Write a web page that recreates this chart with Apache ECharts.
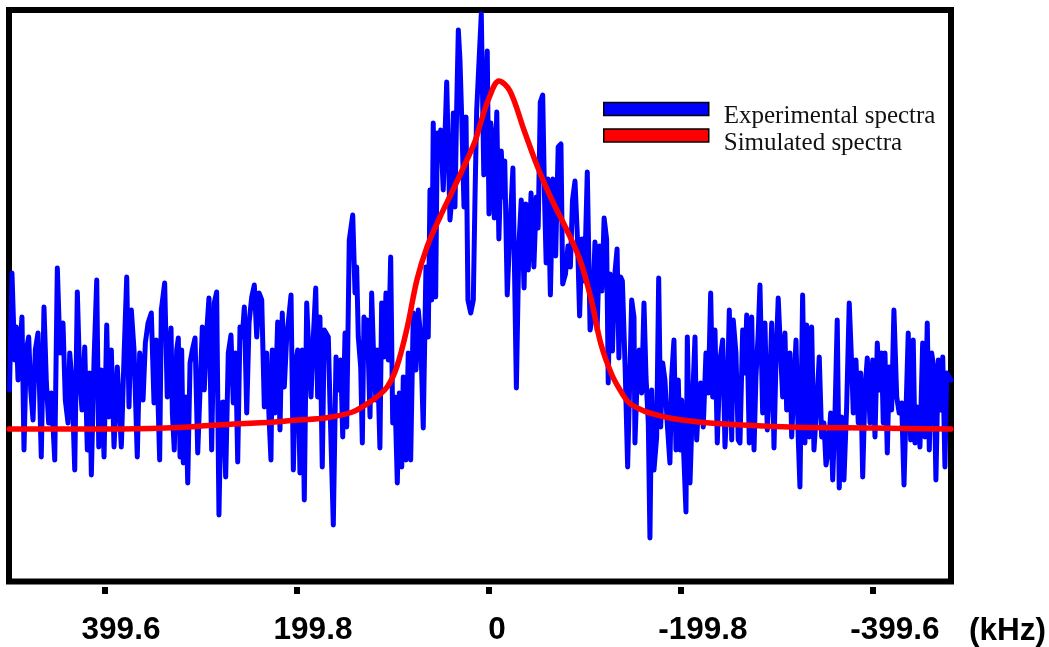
<!DOCTYPE html>
<html><head><meta charset="utf-8">
<script src="https://cdn.jsdelivr.net/npm/echarts@6/dist/echarts.min.js"></script>
<style>html,body{margin:0;padding:0;background:#fff}#c{width:1049px;height:647px}</style>
</head><body><div id="c"></div>
<script>
const tickValues = [399.6, 199.8, 0, -199.8, -399.6];
const unitLabel = '(kHz)';
const seriesNames = ['Experimental spectra', 'Simulated spectra'];

const expFreq = [
499.0, 496.4, 493.6, 491.9, 490.1, 486.0, 483.9, 481.5, 479.0, 476.9, 474.5, 472.1, 469.3, 465.9, 463.1, 460.6, 458.2, 455.4, 451.9, 449.2, 446.4, 443.3, 440.9, 438.1, 436.3, 433.9, 431.1, 428.4, 425.9, 423.5, 420.7, 418.0, 415.5, 413.8, 411.0, 408.2, 406.1, 403.4, 400.6, 397.8, 395.7, 393.0, 390.2, 386.8, 382.6, 379.8, 377.0, 374.6, 372.2, 369.4, 366.0, 363.5, 360.0, 357.6, 354.8, 351.4, 348.6, 346.2, 342.7, 341.0, 337.5, 334.8,
330.9, 329.5, 327.5, 325.0, 323.3, 321.5, 319.8, 318.1, 315.6, 313.5, 311.1, 308.7, 305.9, 303.1, 300.7, 298.3, 296.3, 293.8, 291.4, 288.6, 285.9, 283.4, 281.0, 278.9, 276.5, 274.0, 271.3, 268.5, 266.1, 263.6, 261.5, 259.1, 256.7, 254.6, 252.1, 249.7, 246.9, 244.2, 241.7, 239.3, 236.5, 233.8, 231.3, 228.9, 226.9, 225.5, 222.7, 219.9, 217.5, 215.1, 213.0, 210.5, 208.1, 206.0, 203.6, 201.1, 199.1, 196.7, 194.3, 192.2, 189.7, 188.0, 185.2, 182.8, 180.3, 178.3, 175.9, 173.5, 171.4,
167.2, 165.5, 162.0, 159.2, 156.8, 154.3, 152.2, 149.8, 148.1, 145.4, 141.8, 139.4, 137.7, 136.0, 133.5, 131.8, 130.1, 128.0, 126.6, 123.8, 122.1, 119.7, 117.6, 116.2, 113.5, 111.7, 109.3, 107.2, 104.8, 102.3, 100.2, 97.8, 95.4, 93.3, 90.8, 89.2, 86.4, 84.0, 81.5, 78.8, 76.0, 73.6, 71.1, 68.4, 65.6, 63.2, 61.4, 59.6, 58.0, 55.5, 53.8, 51.7, 50.3, 47.6, 44.0, 42.4, 40.6, 38.8, 37.1, 35.4, 33.6, 31.9, 30.2, 28.4, 26.0, 23.9, 21.9, 19.0, 16.3, 14.6, 12.8, 8.0,
5.4, 3.6, 1.8, 0, -1.9, -3.6, -5.5, -8.1, -10.3, -12.8, -14.7, -16.4, -19.0, -22.0, -24.9, -28.5, -31.1, -33.6, -36.5, -38.4, -40.9, -43.8, -46.7, -49.3, -51.2, -53.4, -55.9, -57.8, -59.5, -61.4, -63.9, -66.5, -69.4, -72.0, -74.9, -76.7, -79.6, -82.2, -84.7, -86.9, -89.5, -92.1, -94.3, -96.8, -99.4, -102.3, -105.2, -107.7, -110.3, -112.5, -115.1, -117.6, -119.8, -122.4, -124.1, -126.0, -128.5, -130.7, -133.3, -135.2, -137.0, -138.8, -141.7, -144.3,
-148.5, -150.9, -151.9, -153.7, -156.4, -158.9, -161.3, -163.4, -165.8, -167.5, -169.3, -171.7, -174.5, -176.6, -178.7, -180.8, -183.1, -185.5, -188.3, -190.1, -192.5, -194.6, -197.0, -198.8, -200.5, -205.0, -206.4, -209.2, -212.0, -214.4, -216.1, -218.5, -220.3, -223.0, -225.8, -228.2, -230.7, -232.8, -235.2, -237.6, -240.4, -243.2, -245.6, -248.0, -250.1, -252.6, -254.2, -257.0, -259.4, -261.2, -264.0, -266.4, -268.2, -270.9, -273.4, -275.8, -277.8, -280.2, -282.0, -284.8, -287.2, -289.6, -292.4, -294.2, -296.6, -298.7, -301.0, -303.5, -305.6, -308.0, -309.8, -311.9, -313.2,
-315.0, -319.5, -321.9, -323.6, -326.4, -328.8, -330.6, -333.3, -335.8, -338.2, -341.0, -343.7, -346.2, -348.6, -350.7, -353.1, -355.6, -357.7, -360.0, -362.4, -364.5, -367.0, -369.4, -372.2, -374.9, -377.4, -379.1, -381.9, -384.3, -386.8, -388.9, -391.3, -393.7, -396.5, -399.3, -401.7, -404.1, -406.2, -408.6, -410.3, -412.1, -414.5, -416.6, -419.0, -421.4, -424.3, -426.9, -429.5, -431.9, -434.0, -436.3, -438.8, -441.5, -443.3, -445.7, -448.5, -451.3, -453.7, -456.1, -458.2, -460.7, -463.1, -465.1, -467.6, -470.1, -472.2, -474.5, -476.3, -480.8
];
const expInt = [
39, 156, 69, 102, 49, 112, -21, 79, 92, 39, 9, 79, 96, -28, 122, 46, 6, 36, -31, 161, 76, 106, 29, 6, 76, 46, -41, 137, 52, 19, 82, -21, 56, -46, 69, 149, -18, 59, -28, 104, 12, 79, -18, 62, -18, 72, 152, 22, 119, 79, -28, 76, 29, 86, 106, 116, 26, 89, -31, 119, 146, 32,
101, 16, -21, 79, 91, -28, 79, -34, 32, -54, 66, 79, 91, -24, 39, 102, 39, 96, 131, -21, 126, 137, -86, 26, 27, -48, 76, 94, 26, 76, -33, 102, 92, 122, 16, 106, 132, 144, 92, 136, 129, 22, 76, 12, -31, 79, 16, 107, -1, 116, 42, 92, 114, 134, -41, 66, 79, -44, 79, -71, 126, 89, 32, 92, 141, 32, 112, -38, 99,
92, 26, -96, 72, 39, 69, -8, 96, 2, 189, 214, 136, 162, 92, 62, -14, 112, 89, 109, 12, 136, 62, 29, 79, -19, 126, 72, 136, 69, 172, 6, 32, -54, 36, -38, 52, -31, 76, -31, 116, 59, 119, 92, 1, 162, 92, 239, 129, 306, 132, 296, 269, 299, 239, 347, 282, 209, 229, 316, 222, 322, 399, 369, 312, 222, 312, 129, 116, 129, 229, 319, 415,
254, 320, 378, 215, 306, 289, 211, 317, 190, 278, 232, 268, 134, 204, 261, 41, 183, 229, 141, 225, 159, 236, 162, 232, 201, 327, 334, 232, 166, 250, 134, 250, 173, 282, 285, 145, 155, 183, 162, 229, 248, 190, 113, 190, 148, 257, 99, 113, 187, 99, 183, 138, 211, 190, 46, 155, 78, 152, 180, 71, 152, 148, 61, -38,
129, 112, -14, 36, 79, 36, 126, 52, 6, -109, 39, -41, -8, 151, 2, 66, 49, 6, -34, 52, 89, -21, 49, -21, 29, -83, 92, -54, 32, 92, -11, 32, 46, 2, 76, 36, 136, 32, 99, -14, 69, 89, -18, 32, 119, -11, 109, 76, -11, -14, 99, 56, 114, -14, 112, -21, 52, 96, 144, 16, 106, -1, 52, 106, -19, 69, 131, 76, 32, 96, 19, 59, 76,
-8, 89, -11, -58, 134, -14, 104, -8, 102, -21, 22, 72, -8, 6, -36, -21, 16, -51, 12, 109, -59, 12, -51, 22, 126, 66, 16, 69, 6, 56, -48, 39, 71, 6, 69, -8, 86, 39, 76, 6, 76, -24, 62, 19, 119, 32, 16, 26, -56, 19, 96, -11, 89, -14, 22, -18, 86, -8, 106, -21, 76, 59, -51, 69, 19, 72, -38, 56, 49
];

const simFreq = [499.5, 400, 337, 282, 223, 199, 171, 142, 121, 106, 96, 85, 75, 64.5, 51, 37.5, 23, 14, 9, 0, -10.4, -21.8, -36.4, -51, -65.5, -80, -94.7, -106, -116.5, -128, -138.3, -146, -159, -167.5, -188, -230, -313, -400, -480.8];
const simInt  = [0, 0, 1, 4, 7, 9, 11, 17, 29, 42, 62, 102, 149, 182, 212, 239, 269, 289, 305, 331, 348, 338, 299, 261, 229, 201, 169, 131, 85, 54, 36, 26, 19, 16, 11, 6, 2, 1, 0];

function zip(a, b) {
  const n = Math.min(a.length, b.length);
  const out = [];
  for (let i = 0; i < n; i++) out.push([a[i], b[i]]);
  return out;
}

const labelFont = {fontSize: 31.5, fontWeight: 'bold', color: '#000', fontFamily: 'Liberation Sans'};
const legendFont = {fontFamily: 'Liberation Serif', fontSize: 25, color: '#111'};
const chart = echarts.init(document.getElementById('c'), null, {renderer: 'canvas'});
chart.setOption({
  animation: false,
  backgroundColor: '#ffffff',
  grid: {left: 9, top: 10, width: 942, height: 571.5, show: true, borderColor: '#000', borderWidth: 6, backgroundColor: 'transparent', containLabel: false},
  xAxis: {
    type: 'value', inverse: true, min: -480.8, max: 499.5, offset: 5.5,
    axisLine: {show: false, onZero: false}, splitLine: {show: false},
    axisTick: {show: true, length: 7, customValues: tickValues, lineStyle: {width: 6, color: '#000'}},
    axisLabel: Object.assign({
      customValues: tickValues, margin: 27,
      formatter: v => {
        const s = String(v);
        const cls = v === 0 ? 'z' : (v < 0 ? 'n' : 'p');
        return '{' + cls + '|' + s + '}';
      },
      rich: {
        p: Object.assign({padding: [0, 0, 0, 32]}, labelFont),
        z: Object.assign({padding: [0, 0, 0, 16]}, labelFont),
        n: Object.assign({padding: [0, 0, 0, 44]}, labelFont)
      }
    }, labelFont)
  },
  yAxis: {type: 'value', min: -152.5, max: 419, show: false},
  legend: {
    orient: 'vertical', left: 603, top: 96.5, padding: 0, itemGap: -6,
    itemWidth: 105, itemHeight: 13, icon: 'rect',
    itemStyle: {borderColor: '#000', borderWidth: 1.5},
    formatter: name => '{s|}{t|' + name + '}',
    textStyle: Object.assign({
      padding: [0, 0, 0, 10],
      rich: {
        s: {height: 40, width: 0},
        t: Object.assign({verticalAlign: 'bottom', lineHeight: 24}, legendFont)
      }
    }, legendFont),
    data: seriesNames
  },
  graphic: [{type: 'text', left: 969, top: 615, style: {text: unitLabel, font: 'bold 31.5px "Liberation Sans"', fill: '#000'}}],
  series: [
    {type: 'line', name: seriesNames[0], data: zip(expFreq, expInt), symbol: 'none', z: 2,
     lineStyle: {color: '#0000ff', width: 5, cap: 'round', join: 'round'}, itemStyle: {color: '#0000ff'}},
    {type: 'line', name: seriesNames[1], data: zip(simFreq, simInt), symbol: 'none', smooth: 0.35, z: 3,
     lineStyle: {color: '#ff0000', width: 5.5, cap: 'round', join: 'round'}, itemStyle: {color: '#ff0000'}}
  ]
});
</script>
</body></html>
